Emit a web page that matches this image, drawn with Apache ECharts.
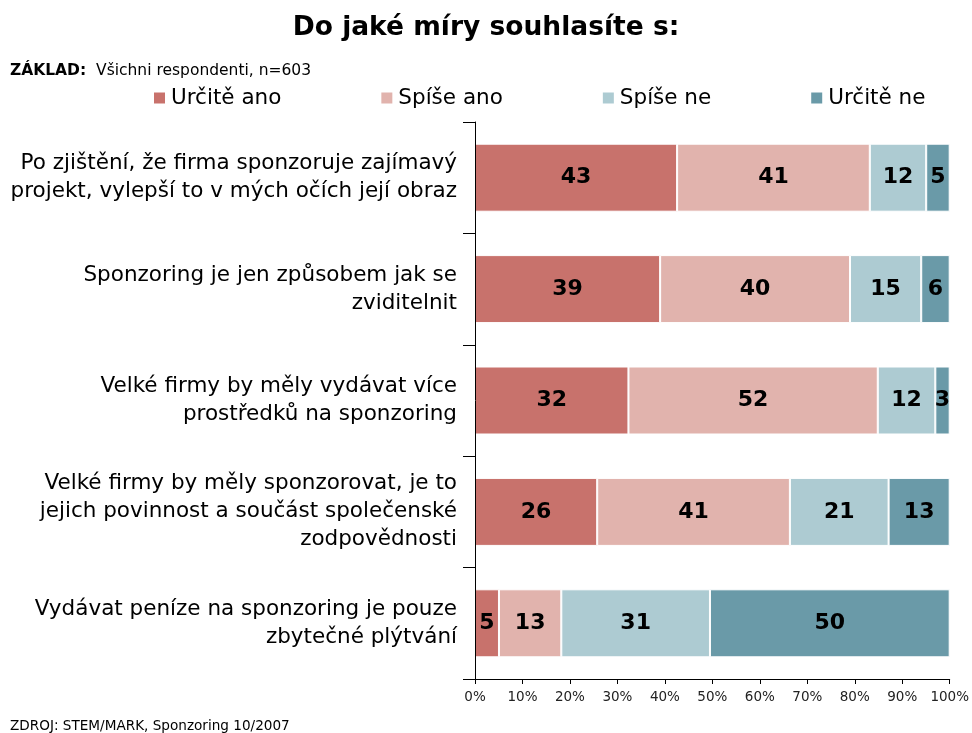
<!DOCTYPE html>
<html><head><meta charset="utf-8">
<script src="https://cdn.jsdelivr.net/npm/echarts@6/dist/echarts.min.js"></script>
<style>html,body{margin:0;padding:0;background:#fff}#c{width:972px;height:733px}</style>
</head><body><div id="c"></div>
<script>
const categories = [
  "Po zjištění, že firma sponzoruje zajímavý\nprojekt, vylepší to v mých očích její obraz",
  "Sponzoring je jen způsobem jak se\nzviditelnit",
  "Velké firmy by měly vydávat více\nprostředků na sponzoring",
  "Velké firmy by měly sponzorovat, je to\njejich povinnost a součást společenské\nzodpovědnosti",
  "Vydávat peníze na sponzoring je pouze\nzbytečné plýtvání"
];
const seriesNames = ["Určitě ano", "Spíše ano", "Spíše ne", "Určitě ne"];
const urciteAno = [43, 39, 32, 26, 5];
const spiseAno = [41, 40, 52, 41, 13];
const spiseNe = [12, 15, 12, 21, 31];
const urciteNe = [5, 6, 3, 13, 50];
const xTicks = [0, 10, 20, 30, 40, 50, 60, 70, 80, 90, 100];
const colors = ["#C8726C", "#E1B3AD", "#ADCBD2", "#6A9AA8"];

const raw = [urciteAno, spiseAno, spiseNe, urciteNe];
const totals = categories.map((_, i) => raw.reduce((s, arr) => s + arr[i], 0));
const F = "Verdana, 'DejaVu Sans', sans-serif";

const chart = echarts.init(document.getElementById('c'), null, {renderer: 'canvas'});
chart.setOption({
  animation: false,
  backgroundColor: '#fff',
  title: [
    {text: 'Do jaké míry souhlasíte s:', left: 'center', top: 10,
     textStyle: {fontFamily: F, fontSize: 26.5, fontWeight: 'bold', color: '#000'}},
    {text: '{b|ZÁKLAD:}  Všichni respondenti, n=603', left: 5, top: 58,
     textStyle: {fontFamily: F, fontSize: 15.5, color: '#000', fontWeight: 'normal',
       rich: {b: {fontFamily: F, fontSize: 15.5, fontWeight: 'bold', color: '#000'}}}},
    {text: 'ZDROJ: STEM/MARK, Sponzoring 10/2007', left: 5, top: 714,
     textStyle: {fontFamily: F, fontSize: 13.6, color: '#000', fontWeight: 'normal'}}
  ],
  legend: {
    left: 147, top: 82, itemWidth: 13, itemHeight: 13, itemGap: 98,
    icon: 'rect',
    textStyle: {fontFamily: F, fontSize: 21.5, color: '#000'},
    data: seriesNames
  },
  grid: {left: 475, right: 21, top: 122, bottom: 54, containLabel: false},
  xAxis: {
    type: 'value', min: 0, max: 100, interval: 10,
    axisLine: {show: true, lineStyle: {color: '#000', width: 1}},
    axisTick: {show: true, length: 5, lineStyle: {color: '#000'}},
    splitLine: {show: false},
    axisLabel: {fontFamily: F, fontSize: 13.5, color: '#222', margin: 11,
      formatter: v => xTicks.includes(v) ? v + '%' : ''}
  },
  yAxis: {
    type: 'category', inverse: true, data: categories, z: 5,
    axisLine: {show: true, lineStyle: {color: '#000', width: 1}},
    axisTick: {show: true, length: 12, lineStyle: {color: '#000'}},
    axisLabel: {fontFamily: F, fontSize: 21.5, color: '#000', align: 'right',
      lineHeight: 28, margin: 18}
  },
  series: raw.map((arr, si) => ({
    name: seriesNames[si], type: 'bar', stack: 'total', barWidth: 68,
    itemStyle: {color: colors[si], borderColor: '#fff', borderWidth: 1},
    label: {show: true, position: 'inside', fontFamily: F, fontSize: 22,
      fontWeight: 'bold', color: '#000',
      formatter: p => String(arr[p.dataIndex])},
    data: arr.map((v, i) => v / totals[i] * 100)
  }))
});
</script></body></html>
